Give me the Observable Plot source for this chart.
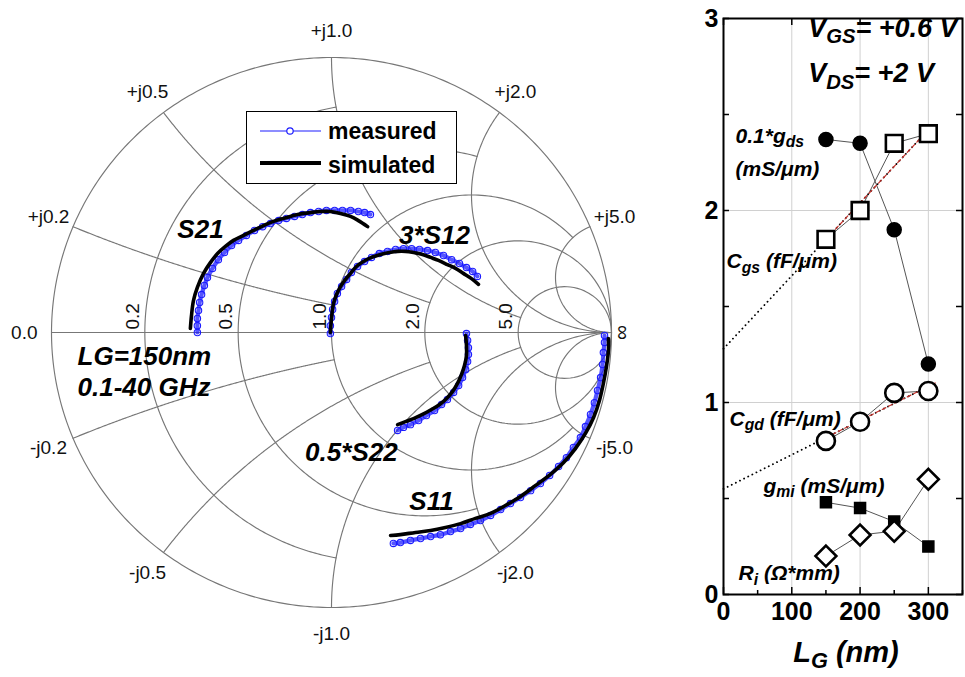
<!DOCTYPE html>
<html>
<head>
<meta charset="utf-8">
<script src="https://cdn.jsdelivr.net/npm/d3@7"></script>
<script src="https://cdn.jsdelivr.net/npm/@observablehq/plot@0.6"></script>
<style>
  html, body { margin: 0; padding: 0; background: #fff; }
  #chart { position: relative; width: 965px; height: 677px; overflow: hidden; background: #fff;
           font-family: "Liberation Sans", Arial, Helvetica, sans-serif; }
  #chart > svg.panel { position: absolute; top: 0; }
  #legend { position: absolute; left: 246px; top: 111px; width: 211px; height: 73px; box-sizing: border-box;
            border: 1.2px solid #000; background: #fff; }
  #legend svg { display: block; }
</style>
</head>
<body>
<div id="chart">
  <div id="legend">
    <svg width="209" height="71">
      <line x1="13" y1="19" x2="74" y2="19" stroke="#1c1cff" stroke-width="1.2"></line>
      <circle cx="43" cy="19" r="3.2" fill="#fff" stroke="#1c1cff" stroke-width="1.2"></circle>
      <text x="81" y="27" font-family="Liberation Sans, Arial, sans-serif" font-weight="bold" font-size="23">measured</text>
      <line x1="13" y1="51" x2="74" y2="51" stroke="#000" stroke-width="4"></line>
      <text x="81" y="61" font-family="Liberation Sans, Arial, sans-serif" font-weight="bold" font-size="23">simulated</text>
    </svg>
  </div>
</div>
<script>
const FONT = "'Liberation Sans', Arial, Helvetica, sans-serif";
const BLUE = "#1c1cff";

// ---- Smith chart: grid values (resistance / reactance) and where each line stops
const gridValues = [0.2, 0.5, 1, 2, 5];
const gridLimits = [1, 2, 5, Infinity, Infinity];

// ---- Reflection coefficients [Re, Im], 0.1-40 GHz, LG = 150 nm
const s21Measured = [[-0.479,0],[-0.479,0.025],[-0.479,0.051],[-0.475,0.080],[-0.471,0.109],[-0.464,0.138],
  [-0.454,0.171],[-0.443,0.200],[-0.425,0.233],[-0.404,0.265],[-0.382,0.291],[-0.357,0.316],[-0.332,0.335],
  [-0.304,0.353],[-0.275,0.371],[-0.246,0.385],[-0.218,0.396],[-0.189,0.407],[-0.161,0.415],[-0.132,0.422],
  [-0.104,0.429],[-0.075,0.436],[-0.046,0.440],[-0.018,0.444],[0.011,0.444],[0.039,0.444],[0.068,0.444],
  [0.096,0.440],[0.118,0.436],[0.139,0.429]];
const s21Simulated = [[-0.504,0.015],[-0.500,0.062],[-0.493,0.116],[-0.479,0.164],[-0.457,0.215],[-0.432,0.255],
  [-0.407,0.287],[-0.379,0.313],[-0.350,0.335],[-0.314,0.353],[-0.279,0.371],[-0.243,0.389],[-0.207,0.404],
  [-0.171,0.415],[-0.121,0.429],[-0.075,0.436],[-0.039,0.440],[-0.004,0.440],[0.032,0.433],[0.068,0.422],
  [0.096,0.407],[0.129,0.385]];
const s12Measured = [[-0.004,-0.004],[-0.004,0.025],[0,0.055],[0.004,0.084],[0.011,0.113],[0.021,0.142],
  [0.036,0.167],[0.054,0.193],[0.071,0.218],[0.093,0.240],[0.118,0.258],[0.143,0.273],[0.171,0.287],
  [0.200,0.295],[0.229,0.302],[0.257,0.305],[0.286,0.305],[0.314,0.302],[0.343,0.298],[0.371,0.291],
  [0.400,0.280],[0.429,0.265],[0.457,0.251],[0.482,0.236],[0.504,0.222],[0.521,0.204]];
const s12Simulated = [[-0.004,0],[0,0.051],[0.007,0.105],[0.018,0.138],[0.032,0.167],[0.050,0.193],
  [0.068,0.215],[0.089,0.240],[0.114,0.258],[0.143,0.273],[0.175,0.284],[0.207,0.291],[0.236,0.295],
  [0.264,0.295],[0.293,0.291],[0.325,0.284],[0.354,0.273],[0.382,0.262],[0.414,0.247],[0.443,0.233],
  [0.471,0.215],[0.500,0.196],[0.525,0.175]];
const s22Measured = [[0.482,-0.004],[0.486,-0.029],[0.489,-0.055],[0.489,-0.080],[0.486,-0.105],[0.479,-0.135],
  [0.468,-0.164],[0.454,-0.193],[0.436,-0.218],[0.414,-0.244],[0.393,-0.262],[0.368,-0.284],[0.339,-0.302],
  [0.311,-0.320],[0.282,-0.335],[0.257,-0.345],[0.236,-0.356]];
const s22Simulated = [[0.479,-0.011],[0.482,-0.047],[0.482,-0.084],[0.475,-0.120],[0.464,-0.153],[0.450,-0.185],
  [0.432,-0.215],[0.411,-0.240],[0.386,-0.262],[0.357,-0.280],[0.325,-0.298],[0.293,-0.313],[0.264,-0.324],
  [0.236,-0.335]];
const s11Measured = [[0.221,-0.767],[0.246,-0.764],[0.282,-0.756],[0.318,-0.749],[0.354,-0.742],[0.389,-0.735],
  [0.425,-0.724],[0.461,-0.713],[0.496,-0.698],[0.532,-0.684],[0.568,-0.665],[0.604,-0.644],[0.639,-0.622],
  [0.675,-0.600],[0.711,-0.575],[0.746,-0.549],[0.779,-0.520],[0.811,-0.487],[0.839,-0.455],[0.864,-0.418],
  [0.889,-0.382],[0.907,-0.342],[0.925,-0.298],[0.939,-0.255],[0.950,-0.211],[0.961,-0.164],[0.968,-0.116],
  [0.971,-0.073],[0.975,-0.036],[0.975,-0.011]];
const s11Simulated = [[0.211,-0.738],[0.246,-0.735],[0.300,-0.727],[0.354,-0.720],[0.407,-0.709],[0.461,-0.695],
  [0.514,-0.676],[0.568,-0.658],[0.621,-0.629],[0.675,-0.596],[0.729,-0.556],[0.782,-0.516],[0.829,-0.473],
  [0.871,-0.422],[0.907,-0.367],[0.936,-0.309],[0.957,-0.247],[0.971,-0.185],[0.982,-0.124],[0.989,-0.065],
  [0.989,-0.022]];

// Curve annotations [Re, Im, text]
const curveLabels = [[-0.468,0.375,"S21"],[0.368,0.353,"3*S12"],[0.071,-0.436,"0.5*S22"],[0.357,-0.615,"S11"]];
const noteLines = [[-0.907,-0.087,"LG=150nm"],[-0.907,-0.200,"0.1-40 GHz"]];

// ---- Small-signal parameters vs gate length
const gateLength = [150, 200, 250, 300];
const gds = [2.37, 2.35, 1.90, 1.20];   // 0.1*gds (mS/um)
const cgs = [1.85, 2.00, 2.35, 2.40];   // fF/um
const cgd = [0.80, 0.90, 1.05, 1.06];   // fF/um
const gmi = [0.48, 0.45, 0.38, 0.25];   // mS/um
const ri  = [0.20, 0.31, 0.33, 0.60];   // ohm*mm
// Linear fits: [intercept, slope per nm, last x]
const cgsFit = [1.28, 0.0038, 300];
const cgdFit = [0.55, 0.00178, 310];
const xTickValues = [0, 100, 200, 300];
const yTickValues = [0, 1, 2, 3];

// z = r + jx  ->  reflection coefficient
function gamma(r, x) {
  const d = (r + 1) ** 2 + x * x;
  return [(r * r + x * x - 1) / d, (2 * x) / d];
}
function sweep(a, b, n) { return d3.range(n + 1).map(i => a + (b - a) * i / n); }

const gridLines = [];
// outer circle (r = 0)
sweep(-Math.PI / 2, Math.PI / 2, 400).forEach(s => {
  const [u, v] = gamma(0, Math.tan(s)); gridLines.push({u, v, key: "r0"});
});
gridValues.forEach((val, i) => {
  const lim = Math.atan(gridLimits[i]);
  sweep(-lim, lim, 300).forEach(s => {
    const [u, v] = gamma(val, Math.tan(s)); gridLines.push({u, v, key: "r" + val});
  });
  [1, -1].forEach(sign => {
    sweep(0, lim, 300).forEach(s => {
      const [u, v] = gamma(Math.tan(s), sign * val); gridLines.push({u, v, key: "x" + sign * val});
    });
  });
});

const reactanceLabels = [];
gridValues.forEach(val => [1, -1].forEach(sign => {
  const [u, v] = gamma(0, sign * val);
  reactanceLabels.push({u: u * 1.095, v: v * 1.095, label: (sign > 0 ? "+j" : "-j") + val.toFixed(1)});
}));

const X = d => d[0], Y = d => d[1];
const measuredMarks = data => [
  Plot.line(data, {x: X, y: Y, curve: "catmull-rom", stroke: BLUE, strokeWidth: 4.2, strokeOpacity: 0.75}),
  Plot.dot(data, {x: X, y: Y, r: 3.2, stroke: BLUE, strokeWidth: 1.1, fill: "none"})
];
const simulatedMark = data =>
  Plot.line(data, {x: X, y: Y, curve: "catmull-rom", stroke: "#000", strokeWidth: 3.6});

const smith = Plot.plot({
  width: 650, height: 677,
  marginLeft: 51, marginRight: 39, marginTop: 57, marginBottom: 70,
  x: {domain: [-1, 1], axis: null},
  y: {domain: [-1, 1], axis: null},
  style: {fontFamily: FONT, background: "transparent", overflow: "visible"},
  marks: [
    Plot.line(gridLines, {x: "u", y: "v", z: "key", stroke: "#777", strokeWidth: 1.15}),
    Plot.ruleY([0], {x1: -1, x2: 1, stroke: "#777", strokeWidth: 1.15}),
    Plot.text(reactanceLabels, {x: "u", y: "v", text: "label", fontSize: 19, fill: "#111"}),
    Plot.text(gridValues, {x: r => gamma(r, 0)[0], y: 0, text: r => r.toFixed(1), rotate: -90,
      textAnchor: "start", dx: -12, dy: -3, fontSize: 19, fill: "#111"}),
    Plot.text(["0.0"], {x: -1, y: 0, text: d => d, textAnchor: "end", dx: -14, fontSize: 19, fill: "#111"}),
    Plot.text(["\u221E"], {x: 1, y: 0, text: d => d, rotate: 90, dx: 11, fontSize: 21, fill: "#111"}),
    ...measuredMarks(s21Measured), simulatedMark(s21Simulated),
    ...measuredMarks(s12Measured), simulatedMark(s12Simulated),
    ...measuredMarks(s22Measured), simulatedMark(s22Simulated),
    ...measuredMarks(s11Measured), simulatedMark(s11Simulated),
    Plot.text(curveLabels, {x: X, y: Y, text: d => d[2], fontSize: 26, fontWeight: "bold", fontStyle: "italic", fill: "#000"}),
    Plot.text(noteLines, {x: X, y: Y, text: d => d[2], textAnchor: "start", fontSize: 26, fontWeight: "bold", fontStyle: "italic", fill: "#000"})
  ]
});

// ---- right panel
const FH = 677 - 18 - 83, FW = 315 - 73 - 3;
const series = (vals) => gateLength.map((x, i) => ({x, y: vals[i]}));
const fitLine = ([b, m, end], from) => [from, end].map(x => ({x, y: b + m * x}));
const connector = vals => Plot.line(series(vals), {x: "x", y: "y", stroke: "#555", strokeWidth: 1});

const paramLabels = [
  {x: 124, y: 2.906, t: "V_{GS}= +0.6 V", s: 27},
  {x: 124, y: 2.667, t: "V_{DS}= +2 V", s: 27},
  {x: 17.6, y: 2.354, t: "0.1*g_{ds}", s: 21},
  {x: 17.6, y: 2.18, t: "(mS/\u03BCm)", s: 21},
  {x: 4.4, y: 1.698, t: "C_{gs} (fF/\u03BCm)", s: 21},
  {x: 8.8, y: 0.88, t: "C_{gd} (fF/\u03BCm)", s: 21},
  {x: 58.6, y: 0.531, t: "g_{mi} (mS/\u03BCm)", s: 21},
  {x: 22, y: 0.073, t: "R_{i} (\u03A9*mm)", s: 21}
];

const params = Plot.plot({
  width: 315, height: 677,
  marginLeft: 73, marginRight: 3, marginTop: 18, marginBottom: 83,
  x: {domain: [0, 350], ticks: xTickValues, tickFormat: d => String(d), tickSize: 0, tickPadding: 8, label: null},
  y: {domain: [0, 3], ticks: yTickValues, tickFormat: d => String(d), tickSize: 0, tickPadding: 5, label: null},
  style: {fontFamily: FONT, fontSize: "25px", fontWeight: "bold", background: "transparent", overflow: "visible"},
  marks: [
    Plot.ruleX([100, 200, 300], {stroke: "#d0d0d0", strokeWidth: 1}),
    Plot.ruleY([1, 2], {stroke: "#d0d0d0", strokeWidth: 1}),
    Plot.tickX(xTickValues, {x: d => d, insetTop: FH - 7, stroke: "#000", strokeWidth: 1.5}),
    Plot.tickX(xTickValues, {x: d => d, insetBottom: FH - 7, stroke: "#000", strokeWidth: 1.5}),
    Plot.tickX(xTickValues.map(d => d + 50), {x: d => d, insetTop: FH - 4, stroke: "#000", strokeWidth: 1.5}),
    Plot.tickY(d3.range(0, 3.01, 0.5), {y: d => d, insetRight: FW - 6, stroke: "#000", strokeWidth: 1.5}),
    Plot.tickY(d3.range(0, 3.01, 0.5), {y: d => d, insetLeft: FW - 6, stroke: "#000", strokeWidth: 1.5}),
    Plot.frame({stroke: "#000", strokeWidth: 2}),
    connector(gds), connector(cgs), connector(cgd), connector(gmi), connector(ri),
    Plot.line(fitLine(cgsFit, 0), {x: "x", y: "y", stroke: "#000", strokeWidth: 1.8, strokeDasharray: "0.1,4.5", strokeLinecap: "round"}),
    Plot.line(fitLine(cgdFit, 0), {x: "x", y: "y", stroke: "#000", strokeWidth: 1.8, strokeDasharray: "0.1,4.5", strokeLinecap: "round"}),
    Plot.line(fitLine(cgsFit, 150), {x: "x", y: "y", stroke: "#c8312b", strokeWidth: 1.2, strokeDasharray: "4,3"}),
    Plot.line(fitLine(cgdFit, 150), {x: "x", y: "y", stroke: "#c8312b", strokeWidth: 1.2, strokeDasharray: "4,3"}),
    Plot.dot(series(gds), {x: "x", y: "y", r: 7, fill: "#000", stroke: "#000"}),
    Plot.dot(series(cgs), {x: "x", y: "y", r: 9.4, symbol: "square", fill: "#fff", stroke: "#000", strokeWidth: 2.6}),
    Plot.dot(series(cgd), {x: "x", y: "y", r: 9, fill: "#fff", stroke: "#000", strokeWidth: 2.6}),
    Plot.dot(series(gmi), {x: "x", y: "y", r: 6.2, symbol: "square", fill: "#000", stroke: "#000"}),
    Plot.dot(series(ri), {x: "x", y: "y", r: 9.4, symbol: "diamond2", fill: "#fff", stroke: "#000", strokeWidth: 2.6}),
    Plot.text(paramLabels, {x: "x", y: "y", text: "t", fontSize: "s", textAnchor: "start", lineAnchor: "bottom",
      fontWeight: "bold", fontStyle: "italic", fill: "#000"}),
    Plot.text(["L_{G} (nm)"], {text: d => d, frameAnchor: "bottom", lineAnchor: "bottom", dy: 67, dx: 3,
      fontSize: 29, fontWeight: "bold", fontStyle: "italic", fill: "#000"})
  ]
});

// "_{...}" in a label becomes a lowered, smaller run
function applySubscripts(svg) {
  const ns = "http://www.w3.org/2000/svg";
  svg.querySelectorAll("text").forEach(el => {
    const s = el.textContent;
    if (!s.includes("_{")) return;
    el.textContent = "";
    let lowered = false;
    s.split(/(_\{[^}]*\})/).forEach(part => {
      if (!part) return;
      const t = document.createElementNS(ns, "tspan");
      if (part.startsWith("_{")) {
        t.textContent = part.slice(2, -1);
        t.setAttribute("font-size", "75%");
        t.setAttribute("dy", "0.3em");
        lowered = true;
      } else {
        t.textContent = part;
        if (lowered) { t.setAttribute("dy", "-0.225em"); lowered = false; }
      }
      el.appendChild(t);
    });
  });
}
applySubscripts(params);

// axis tick labels of the parameter panel: large bold numerals
params.querySelectorAll('g[aria-label^="x-axis"], g[aria-label^="y-axis"]').forEach(g => {
  g.setAttribute("font-size", "25");
  g.style.fontSize = "25px";
  g.querySelectorAll("text").forEach(t => { t.style.fontSize = "25px"; t.style.fontWeight = "bold"; });
});

const chart = document.getElementById("chart");
smith.classList.add("panel"); smith.style.left = "0px";
params.classList.add("panel"); params.style.left = "650px";
chart.insertBefore(params, chart.firstChild);
chart.insertBefore(smith, chart.firstChild);
</script>
</body>
</html>
